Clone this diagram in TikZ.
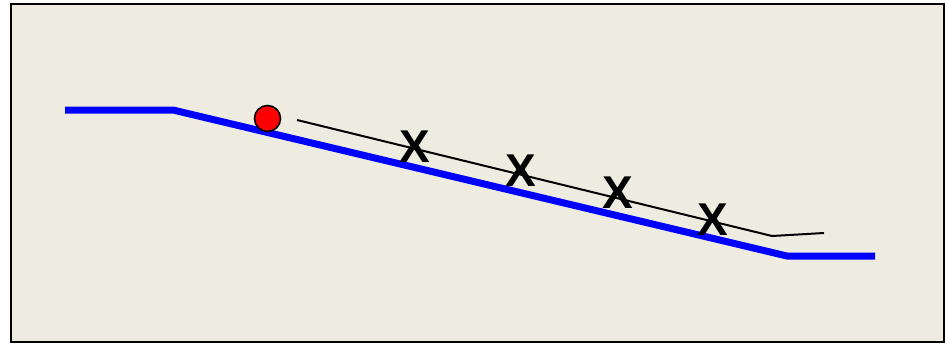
\documentclass[tikz,border=0pt]{standalone}
\usepackage{fontspec}
\setmainfont{Liberation Sans}
\definecolor{slopebg}{RGB}{238,236,225}
\definecolor{slopeblue}{RGB}{0,0,255}
\usetikzlibrary{positioning}

\begin{document}
\begin{tikzpicture}[
    x=1pt,y=-1pt,
    frame/.style={draw=black,line width=2pt,fill=slopebg},
    ground/.style={draw=slopeblue,line width=7pt},
    track/.style={draw=black,line width=2pt},
    ball/.style={circle,draw=black,line width=1.6pt,fill=red,
                 minimum size=26pt,inner sep=0pt},
    cross/.style={inner sep=0pt,font=\fontsize{46}{46}\selectfont\bfseries}
  ]
    \useasboundingbox (0,0) rectangle (945,343);
    % Frame
    \path[frame] (11,4) rectangle (944,342);
    % Slope (ground)
    \coordinate (g1) at (65,110);
    \coordinate (g2) at (173,110);
    \coordinate (g3) at (787,256);
    \coordinate (g4) at (875,256);
    \draw[ground] (g1) -- (g2) -- (g3) -- (g4);
    % Track above the slope
    \coordinate (t1) at (297,120);
    \coordinate (t2) at (772,236);
    \coordinate (t3) at (824,233);
    \draw[track] (t1) -- (t2) -- (t3);
    % Ball
    \node[ball] (b) at (267.5,118.5) {};
    % Crosses
    \node[cross] (x1) at (414.5,147) {X};
    \node[cross] (x2) at (521,171) {X};
    \node[cross] (x3) at (617.5,193) {X};
    \node[cross] (x4) at (712.5,220) {X};
  \end{tikzpicture}
\end{document}
